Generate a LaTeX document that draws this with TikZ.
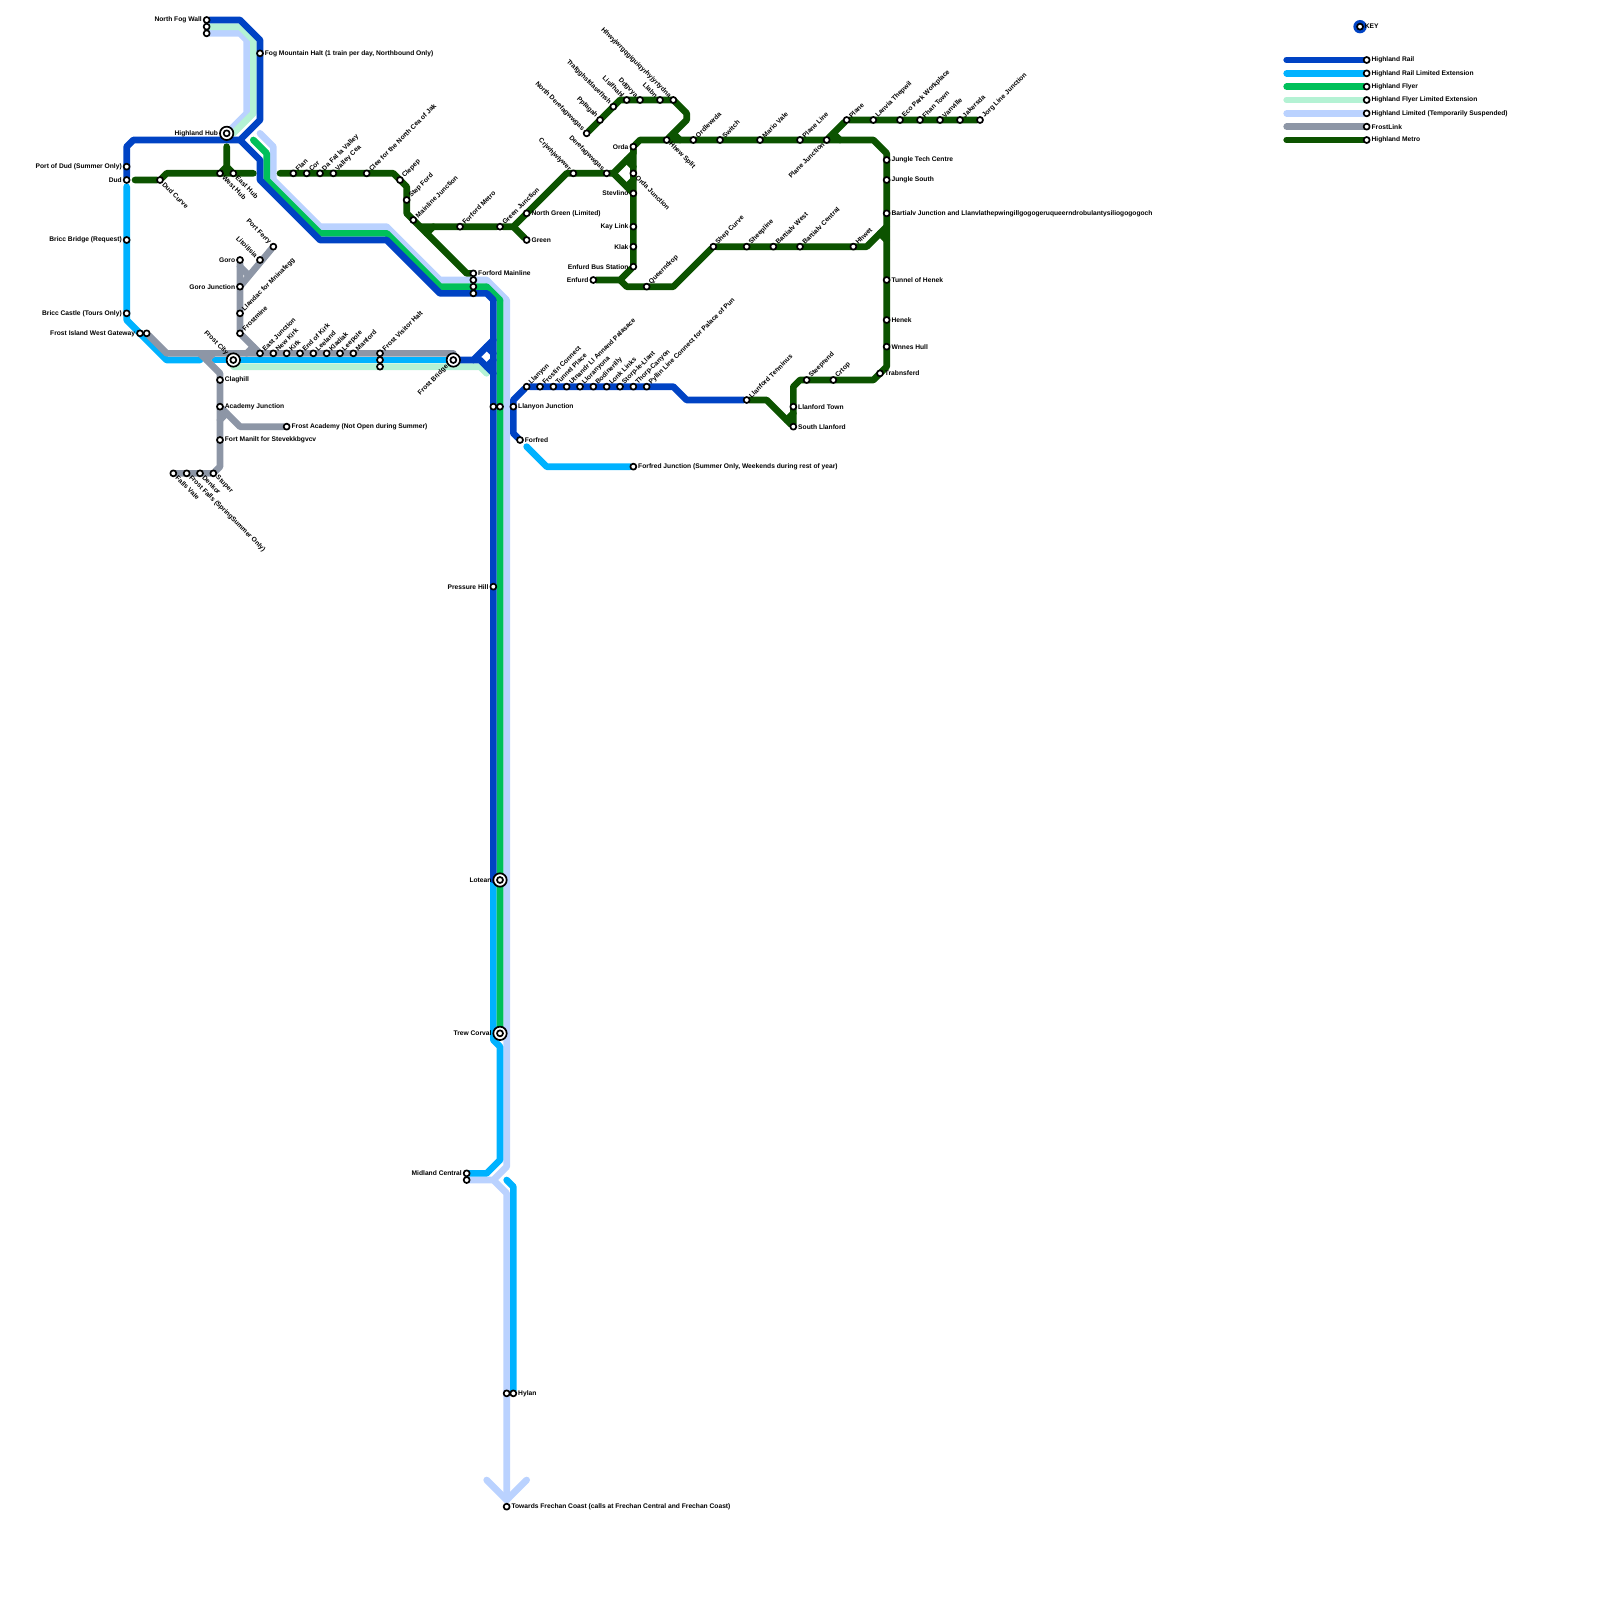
\documentclass[tikz,border=0pt]{standalone}
\usepackage{fontspec}
\setmainfont{Liberation Sans}
\usetikzlibrary{positioning}
\definecolor{railcol}{HTML}{0043C4}
\definecolor{extcol}{HTML}{00B2FF}
\definecolor{flyercol}{HTML}{00C05A}
\definecolor{mintcol}{HTML}{B4F2D4}
\definecolor{ltdcol}{HTML}{BAD2FF}
\definecolor{frostcol}{HTML}{8D96A6}
\definecolor{metrocol}{HTML}{0C5300}
\pgfdeclarelayer{lines}
\pgfsetlayers{lines,main}
\begin{document}
\begin{tikzpicture}[x=6.6667pt,y=-6.6667pt]

\tikzset{stop/.style = {shape=circle,draw=black,fill=white,line width=1.7pt,inner sep=0pt,outer sep=0pt,minimum size=6pt}}
\tikzset{hubring/.style = {shape=circle,draw=black,fill=white,line width=1.7pt,inner sep=0pt,outer sep=0pt,minimum size=13.4pt}}
\tikzset{txt/.style = {font=\fontsize{6.68}{7}\bfseries\selectfont,text=black,inner sep=1.7pt}}
\tikzset{rt/.style = {label={[txt,anchor=west]0:{#1}}}}
\tikzset{lf/.style = {label={[txt,anchor=east]180:{#1}}}}
\tikzset{ne/.style = {label={[txt,anchor=west,rotate=45]45:{#1}}}}
\tikzset{se/.style = {label={[txt,anchor=west,rotate=-45]-45:{#1}}}}
\tikzset{nw/.style = {label={[txt,anchor=east,rotate=-45]135:{#1}}}}
\tikzset{sw/.style = {label={[txt,anchor=east,rotate=45]225:{#1}}}}
\tikzset{every path/.style = {line cap=round,line join=round}}
\tikzset{rail/.style = {draw=railcol,line width=6.67pt}}
\tikzset{ext/.style = {draw=extcol,line width=6.67pt}}
\tikzset{flyer/.style = {draw=flyercol,line width=6.67pt}}
\tikzset{mint/.style = {draw=mintcol,line width=6.67pt}}
\tikzset{ltd/.style = {draw=ltdcol,line width=6.67pt}}
\tikzset{frost/.style = {draw=frostcol,line width=6.67pt}}
\tikzset{metro/.style = {draw=metrocol,line width=6.67pt}}

\useasboundingbox (0,0) rectangle (240,240);

% north and west
\node[stop,lf=North Fog Wall] (fogwall) at (31,3) {};
\node[stop] (fogwallb) at (31,4) {};
\node[stop] (fogwallc) at (31,5) {};
\node[stop,rt={Fog Mountain Halt (1 train per day, Northbound Only)}] (foghalt) at (39,8) {};
\node[hubring,lf=Highland Hub] (highhubo) at (34,20) {};
\node[stop] (highhub) at (34,20) {};
\node[stop,lf={Port of Dud (Summer Only)}] (portdud) at (19,25) {};
\node[stop,lf=Dud] (dud) at (19,27) {};
\node[stop,se=Dud Curve] (dudcurve) at (24,27) {};
\node[stop,se=West Hub] (westhub) at (33,26) {};
\node[stop,se=East Hub] (easthub) at (35,26) {};
\node[stop,lf={Bricc Bridge (Request)}] (briccb) at (19,36) {};
\node[stop,lf={Bricc Castle (Tours Only)}] (briccc) at (19,47) {};
\node[stop,lf=Frost Island West Gateway] (gateway) at (21,50) {};
\node[stop] (gatewayb) at (22,50) {};
% metro west
\node[stop,ne=Flan] (flan) at (44,26) {};
\node[stop,ne=Cor] (cor) at (46,26) {};
\node[stop,ne=Da Fal la Valley] (dafal) at (48,26) {};
\node[stop,ne=Valley Cea] (valleycea) at (50,26) {};
\node[stop,ne=Clee for the North Cea of Jak] (clee) at (55,26) {};
\node[stop,ne=Clepep] (clepep) at (60,27) {};
\node[stop,ne=Step Ford] (stepford) at (61,30) {};
\node[stop,ne=Mainline Junction] (mainline) at (62,33) {};
\node[stop,ne=Forford Metro] (formetro) at (69,34) {};
\node[stop,ne=Green Junction] (greenj) at (75,34) {};
\node[stop,rt={North Green (Limited)}] (northgreen) at (79,32) {};
\node[stop,rt=Green] (green) at (79,36) {};
\node[stop,rt=Forford Mainline] (formain) at (71,41) {};
\node[stop] (formainb) at (71,42) {};
\node[stop] (formainc) at (71,43) {};
\node[stop] (formaind) at (71,44) {};
% frostlink
\node[stop,nw=Port Ferry] (portferry) at (41,37) {};
\node[stop,nw=Litoilisia] (litoilisia) at (39,39) {};
\node[stop,lf=Goro] (goro) at (36,39) {};
\node[stop,lf=Goro Junction] (goroj) at (36,43) {};
\node[stop,ne=Llandac for Mninafegg] (llandac) at (36,47) {};
\node[stop,ne=Frostmine] (frostmine) at (36,50) {};
\node[hubring,nw=Frost City] (frostcityo) at (35,54) {};
\node[stop] (frostcity) at (35,54) {};
\node[stop,ne=East Junction] (eastj) at (39,53) {};
\node[stop,ne=New Kirk] (newkirk) at (41,53) {};
\node[stop,ne=Kirk] (kirk) at (43,53) {};
\node[stop,ne=End of Kirk] (endkirk) at (45,53) {};
\node[stop,ne=Leeland] (leeland) at (47,53) {};
\node[stop,ne=Kladiak] (kladiak) at (49,53) {};
\node[stop,ne=Leepole] (leepole) at (51,53) {};
\node[stop,ne=Manford] (manford) at (53,53) {};
\node[stop,ne=Frost Visitor Halt] (visitor) at (57,53) {};
\node[stop] (visitorb) at (57,54) {};
\node[stop] (visitorc) at (57,55) {};
\node[hubring,sw=Frost Bridge] (frostbro) at (68,54) {};
\node[stop] (frostbr) at (68,54) {};
\node[stop,rt=Claghill] (claghill) at (33,57) {};
\node[stop,rt=Academy Junction] (academyj) at (33,61) {};
\node[stop,rt={Frost Academy (Not Open during Summer)}] (academy) at (43,64) {};
\node[stop,rt=Fort Manilt for Stevekkbgvcv] (manilt) at (33,66) {};
\node[stop,se=Stuper] (stuper) at (32,71) {};
\node[stop,se=Denkor] (denkor) at (30,71) {};
\node[stop,se={Frost Falls (SpringSummer Only)}] (frostfalls) at (28,71) {};
\node[stop,se=Falls Vale] (fallsvale) at (26,71) {};
% trunk
\node[stop] (llanjb) at (74,61) {};
\node[stop] (llanjc) at (75,61) {};
\node[stop,lf=Pressure Hill] (pressure) at (74,88) {};
\node[hubring,lf=Lotean] (loteano) at (75,132) {};
\node[stop] (lotean) at (75,132) {};
\node[hubring,lf=Trew Corval] (trewo) at (75,155) {};
\node[stop] (trew) at (75,155) {};
\node[stop,lf=Midland Central] (midland) at (70,176) {};
\node[stop] (midlandb) at (70,177) {};
\node[stop] (hylanb) at (76,209) {};
\node[stop,rt=Hylan] (hylan) at (77,209) {};
\node[stop,rt={Towards Frechan Coast (calls at Frechan Central and Frechan Coast)}] (towards) at (76,226) {};
% llanyon
\node[stop,rt=Llanyon Junction] (llanj) at (77,61) {};
\node[stop,rt=Forfred] (forfred) at (78,66) {};
\node[stop,rt={Forfred Junction (Summer Only, Weekends during rest of year)}] (forfredj) at (95,70) {};
\node[stop,ne=Llanyon] (llanyon) at (79,58) {};
\node[stop,ne=Frostin Connect] (frostin) at (81,58) {};
\node[stop,ne=Tunnel Place] (tunnelp) at (83,58) {};
\node[stop,ne=Utnandr Ll Annand Palasace] (utnandr) at (85,58) {};
\node[stop,ne=Lloranyona] (lloran) at (87,58) {};
\node[stop,ne=Bodinerilly] (bodin) at (89,58) {};
\node[stop,ne=Lonk Links] (lonk) at (91,58) {};
\node[stop,ne=Storp-le-Llant] (storp) at (93,58) {};
\node[stop,ne=Thorp-Canyon] (thorp) at (95,58) {};
\node[stop,ne=Pyllin Line Connect for Palace of Pun] (pyllin) at (97,58) {};
\node[stop,ne=Llanford Terminus] (lterm) at (112,60) {};
\node[stop,rt=Llanford Town] (ltown) at (119,61) {};
\node[stop,rt=South Llanford] (lsouth) at (119,64) {};
\node[stop,ne=Steeprend] (steep) at (121,57) {};
\node[stop,ne=Crtop] (crtop) at (125,57) {};
\node[stop,rt=Trabnsferd] (trab) at (132,56) {};
% metro east
\node[stop,nw=Crjwhjwlywer] (crjw) at (86,26) {};
\node[stop,nw=Derefagwwgas] (deref) at (91,26) {};
\node[stop,lf=Orda] (orda) at (95,22) {};
\node[stop,se=Orda Junction] (ordaj) at (95,26) {};
\node[stop,lf=Stevlino] (stev) at (95,29) {};
\node[stop,lf=Kay Link] (kay) at (95,34) {};
\node[stop,lf=Klak] (klak) at (95,37) {};
\node[stop,lf=Enfurd Bus Station] (enfbus) at (95,40) {};
\node[stop,lf=Enfurd] (enf) at (89,42) {};
\node[stop,ne=Queerndrop] (queern) at (97,43) {};
\node[stop,ne=Shep Curve] (shep) at (107,37) {};
\node[stop,ne=Sheepline] (sheepl) at (112,37) {};
\node[stop,ne=Bartialv West] (bwest) at (116,37) {};
\node[stop,ne=Bartialv Central] (bcent) at (120,37) {};
\node[stop,ne=Hhwet] (hhwet) at (128,37) {};
\node[stop,nw=North Derefagwwgas] (nderef) at (88,20) {};
\node[stop,nw=Ppfagah] (ppfa) at (90,18) {};
\node[stop,nw=Trafgghsfdasefhsh] (traf) at (92,16) {};
\node[stop,nw=Lisifhahl] (lisi) at (94,15) {};
\node[stop,nw=Ddgvya] (ddgv) at (96,15) {};
\node[stop,nw=Llabn] (llabn) at (99,15) {};
\node[stop,nw=Hhwyjwrgqgiguiqyrhyjyrtydna] (hhwy) at (101,15) {};
\node[stop,se=Hhew Split] (hhew) at (100,21) {};
\node[stop,ne=Ordlewrda] (ordl) at (104,21) {};
\node[stop,ne=Switch] (switch) at (108,21) {};
\node[stop,ne=Mario Vale] (mario) at (114,21) {};
\node[stop,ne=Plane Line] (planel) at (120,21) {};
\node[stop,sw=Plane Junction] (planej) at (124,21) {};
\node[stop,ne=Plane] (plane) at (127,18) {};
\node[stop,ne=Lanvia Thepwil] (lanvia) at (131,18) {};
\node[stop,ne=Eco Park Workplace] (eco) at (135,18) {};
\node[stop,ne=Fhan Town] (fhan) at (138,18) {};
\node[stop,ne=Vanville] (vanv) at (141,18) {};
\node[stop,ne=Jakersda] (jake) at (144,18) {};
\node[stop,ne=Jorg Line Junction] (jorg) at (147,18) {};
\node[stop,rt=Jungle Tech Centre] (jtech) at (133,24) {};
\node[stop,rt=Jungle South] (jsouth) at (133,27) {};
\node[stop,rt=Bartialv Junction and Llanvlathepwingillgogogeruqueerndrobulantysiliogogogoch] (bjunc) at (133,32) {};
\node[stop,rt=Tunnel of Henek] (tunnelh) at (133,42) {};
\node[stop,rt=Henek] (henek) at (133,48) {};
\node[stop,rt=Wnnes Hull] (wnnes) at (133,52) {};
% key
\fill[railcol] (204,4) circle (6.67pt);
\node[stop,rt=KEY] (keystop) at (204,4) {};
\coordinate (keyrail) at (193,9);
\coordinate (keyext) at (193,11);
\coordinate (keyflyer) at (193,13);
\coordinate (keymint) at (193,15);
\coordinate (keyltd) at (193,17);
\coordinate (keyfrost) at (193,19);
\coordinate (keymetro) at (193,21);
\node[stop,rt=Highland Rail] (keya) at (205,9) {};
\node[stop,rt=Highland Rail Limited Extension] (keyb) at (205,11) {};
\node[stop,rt=Highland Flyer] (keyc) at (205,13) {};
\node[stop,rt=Highland Flyer Limited Extension] (keyd) at (205,15) {};
\node[stop,rt={Highland Limited (Temporarily Suspended)}] (keye) at (205,17) {};
\node[stop,rt=FrostLink] (keyf) at (205,19) {};
\node[stop,rt=Highland Metro] (keyg) at (205,21) {};
% free ends
\coordinate (ltdtop) at (39,20);
\coordinate (flytop) at (38,21);
\coordinate (hubjoin) at (36,21);
\coordinate (metroa) at (20.25,27);
\coordinate (metrob) at (38,26);
\coordinate (metroc) at (42,26);
\coordinate (hubstub) at (34,22);
\coordinate (hubfork) at (34,25);
\coordinate (extstart) at (19,28);
\coordinate (extcut) at (30,54);
\coordinate (extcutb) at (32.25,54);
\coordinate (mintstart) at (35,55);
\coordinate (mintend) at (73,56);
\coordinate (frostend) at (68,53);
\coordinate (ltdfork) at (74,177);
\coordinate (extlow) at (76,177);
\coordinate (arrowl) at (73,222);
\coordinate (arrowr) at (79,222);
\coordinate (arrowtip) at (76,225);
\coordinate (forext) at (79,67);

\begin{pgfonlayer}{lines}
%edges
\path[ltd] (fogwallc) -- (36,5) -- (37,6) -- (37,17) -- (highhub);
\path[ltd] (ltdtop) -- (41,22) -- (41,27) -- (48,34) -- (58,34) -- (66,42) -- (73,42) -- (76,45) -- (76,175) -- (ltdfork) -- (midlandb);
\path[ltd] (ltdfork) -- (76,179) -- (arrowtip);
\path[ltd] (arrowl) -- (arrowtip) -- (arrowr);
\path[mint] (fogwallb) -- (36,4) -- (38,6) -- (38,17) -- (35,20) -- (highhub);
\path[mint] (mintstart) -- (72,55) -- (mintend);
\path[ext] (extstart) -- (19,48) -- (25,54) -- (extcut);
\path[ext] (extcutb) -- (frostbr);
\path[ext] (lotean) -- (74,132) -- (74,156) -- (75,157) -- (75,174) -- (73,176) -- (midland);
\path[ext] (extlow) -- (77,178) -- (hylan);
\path[ext] (forext) -- (82,70) -- (forfredj);
\path[flyer] (flytop) -- (40,23) -- (40,27) -- (48,35) -- (58,35) -- (66,43) -- (73,43) -- (75,45) -- (trew);
\path[rail] (fogwall) -- (36,3) -- (39,6) -- (39,18) -- (hubjoin) -- (20,21) -- (19,22) -- (dud);
\path[rail] (hubjoin) -- (39,24) -- (39,27) -- (48,36) -- (58,36) -- (66,44) -- (73,44) -- (74,45) -- (74,132) -- (lotean);
\path[rail] (frostbr) -- (71,54) -- (74,51);
\path[rail] (71,54) -- (72,54) -- (74,56);
\path[rail] (73,52) -- (74,53);
\path[rail] (73,55) -- (74,54);
\path[rail] (forfred) -- (77,65) -- (77,60) -- (llanyon) -- (101,58) -- (103,60) -- (lterm);
\path[frost] (gatewayb) -- (25,53) -- (frostend);
\path[frost] (goro) -- (frostmine) -- (eastj);
\path[frost] (portferry) -- (goroj);
\path[frost] (36,40) -- (37,41);
\path[frost] (38,52) -- (37,53);
\path[frost] (30,53) -- (33,56) -- (33,70) -- (stuper) -- (fallsvale);
\path[frost] (31,54) -- (32,53);
\path[frost] (academyj) -- (36,64) -- (academy);
\path[frost] (34,62) -- (33,63);
\path[metro] (metroa) -- (dudcurve) -- (25,26) -- (metrob);
\path[metro] (hubstub) -- (hubfork) -- (westhub);
\path[metro] (hubfork) -- (easthub);
\path[metro] (metroc) -- (59,26) -- (61,28) -- (61,32) -- (70,41) -- (formain);
\path[metro] (63,34) -- (greenj) -- (77,34) -- (85,26) -- (deref) -- (92,26) -- (95,23) -- (orda);
\path[metro] (64,35) -- (65,34);
\path[metro] (77,34) -- (green);
\path[metro] (92,26) -- (95,29);
\path[metro] (94,24) -- (95,25);
\path[metro] (94,28) -- (95,27);
\path[metro] (orda) -- (enfbus) -- (93,42) -- (enf);
\path[metro] (93,42) -- (94,43) -- (101,43) -- (shep) -- (130,37) -- (133,34);
\path[metro] (132,35) -- (133,36);
\path[metro] (orda) -- (96,21) -- (131,21) -- (133,23) -- (133,55) -- (131,57) -- (120,57) -- (119,58) -- (lsouth) -- (115,60) -- (lterm);
\path[metro] (118,63) -- (119,62);
\path[metro] (nderef) -- (93,15) -- (101,15) -- (103,17) -- (103,18) -- (hhew);
\path[metro] (101,20) -- (102,21);
\path[metro] (planej) -- (plane) -- (jorg);
\path[metro] (125,20) -- (126,21);
% key lines
\path[rail] (keyrail) -- (keya);
\path[ext] (keyext) -- (keyb);
\path[flyer] (keyflyer) -- (keyc);
\path[mint] (keymint) -- (keyd);
\path[ltd] (keyltd) -- (keye);
\path[frost] (keyfrost) -- (keyf);
\path[metro] (keymetro) -- (keyg);
\end{pgfonlayer}
\end{tikzpicture}
\end{document}
